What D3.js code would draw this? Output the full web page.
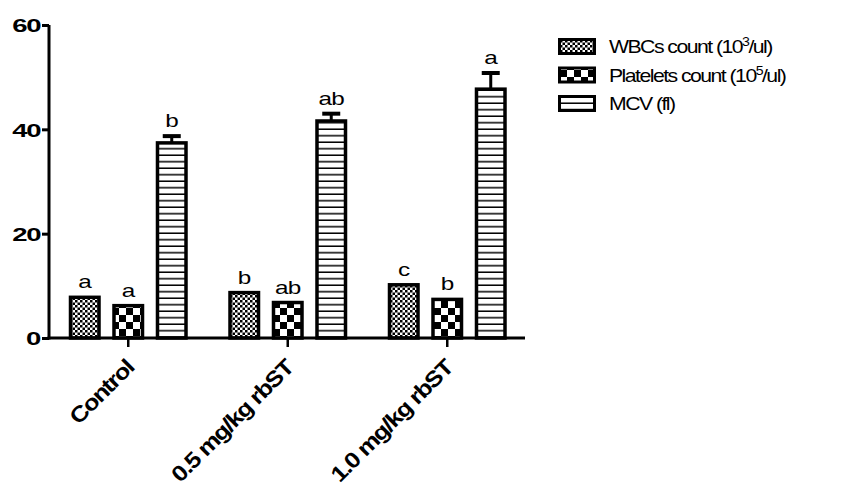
<!DOCTYPE html>
<html><head><meta charset="utf-8">
<script src="https://cdn.jsdelivr.net/npm/d3@7"></script>
<style>body{margin:0;background:#fff;} svg{display:block;}</style>
</head><body>
<svg id="c" width="852" height="488"></svg>
<script>
const groups = ["Control", "0.5 mg/kg rbST", "1.0 mg/kg rbST"];
const seriesNames = ["WBCs count", "Platelets count", "MCV"];
const wbc = [7.8, 8.7, 10.2];
const platelets = [6.2, 6.8, 7.4];
const mcv = [37.4, 41.6, 47.7];
const mcvErr = [1.3, 1.4, 3.1];
const wbcErr = [0, 0, 0];
const pltErr = [0, 0, 0];
const wbcLetters = ["a", "b", "c"];
const pltLetters = ["a", "ab", "b"];
const mcvLetters = ["b", "ab", "a"];
const yTicks = [0, 20, 40, 60];

const FONT = "Liberation Sans, Arial, sans-serif";
const svg = d3.select("#c");
const defs = svg.append("defs");
const p1 = defs.append("pattern").attr("id","fine").attr("patternUnits","userSpaceOnUse").attr("width",5).attr("height",5);
p1.append("rect").attr("width",5).attr("height",5).attr("fill","#fff");
p1.append("rect").attr("width",2.5).attr("height",2.5).attr("fill","#000");
p1.append("rect").attr("x",2.5).attr("y",2.5).attr("width",2.5).attr("height",2.5).attr("fill","#000");
const p2 = defs.append("pattern").attr("id","coarse").attr("patternUnits","userSpaceOnUse").attr("width",14).attr("height",14);
p2.append("rect").attr("width",14).attr("height",14).attr("fill","#fff");
p2.append("rect").attr("width",7).attr("height",7).attr("fill","#000");
p2.append("rect").attr("x",7).attr("y",7).attr("width",7).attr("height",7).attr("fill","#000");
const p3 = defs.append("pattern").attr("id","hlines").attr("patternUnits","userSpaceOnUse").attr("width",10).attr("height",6.5);
p3.append("rect").attr("width",10).attr("height",6.5).attr("fill","#fff");
p3.append("rect").attr("y",5).attr("width",10).attr("height",1.5).attr("fill","#000");
const fills = ["url(#fine)", "url(#coarse)", "url(#hlines)"];

const x0 = d3.scaleBand().domain(groups).range([48.5, 527]).padding(0);
const x1 = d3.scaleBand().domain(seriesNames).range([20.25, 139.25]).paddingInner(0.264).paddingOuter(0);
const y = d3.scaleLinear().domain([0, 60]).range([338, 25]);

const data = seriesNames.map((s, si) => ({
  name: s,
  vals: [wbc, platelets, mcv][si],
  errs: [wbcErr, pltErr, mcvErr][si],
  letters: [wbcLetters, pltLetters, mcvLetters][si],
  fill: fills[si]
}));

const SW = 3.5;
const g = svg.append("g");
data.forEach((s) => {
  groups.forEach((grp, i) => {
    const bx = x0(grp) + x1(s.name) + SW / 2;
    const bw = x1.bandwidth() - SW;
    const v = s.vals[i], e = s.errs[i];
    const cx = bx + bw / 2;
    if (e > 0) {
      g.append("line").attr("x1", cx).attr("x2", cx).attr("y1", y(v)).attr("y2", y(v + e)).attr("stroke","#000").attr("stroke-width",3);
      g.append("line").attr("x1", cx - 9).attr("x2", cx + 9).attr("y1", y(v + e)).attr("y2", y(v + e)).attr("stroke","#000").attr("stroke-width",4);
    }
    g.append("rect").attr("x", bx).attr("y", y(v)).attr("width", bw).attr("height", y(0) - y(v))
      .attr("fill", s.fill).attr("stroke", "#000").attr("stroke-width", SW);
    g.append("text").attr("text-anchor","middle")
      .attr("transform", `translate(${cx},${y(v + e) - 9}) scale(1.35,1)`)
      .attr("font-family",FONT).attr("font-size",18).attr("letter-spacing","-0.5px")
      .text(s.letters[i]);
  });
});

const yAxis = svg.append("g").attr("transform","translate(49,0)")
  .call(d3.axisLeft(y).tickValues(yTicks).tickSize(7).tickFormat(d3.format("d")));
yAxis.select(".domain").attr("stroke-width",3).attr("d","M0,339.5V25");
yAxis.selectAll(".tick line").attr("stroke-width",3);
yAxis.selectAll(".tick text").attr("font-family",FONT).attr("font-size",19)
  .attr("font-weight","bold").attr("letter-spacing","-1px").attr("x",0).attr("dy","0.36em")
  .attr("transform","translate(-9,0) scale(1.45,1)");

const xAxis = svg.append("g").attr("transform","translate(0,338)")
  .call(d3.axisBottom(x0).tickSize(9).tickSizeOuter(0));
xAxis.select(".domain").attr("stroke-width",3).attr("d","M47.5,0H525");
xAxis.selectAll(".tick line").attr("stroke-width",2.5);
xAxis.selectAll(".tick text").attr("font-family",FONT).attr("font-size",22)
  .attr("font-weight","bold").attr("letter-spacing","-1.2px").attr("text-anchor","end")
  .attr("x",0).attr("y",0).attr("dy",0)
  .attr("transform","translate(7,31) rotate(-45) scale(1.15,1)");

const legendLabels = [["WBCs count (10", "3", "/ul)"], ["Platelets count (10", "5", "/ul)"], ["MCV (fl)", "", ""]];
const lg = svg.append("g");
legendLabels.forEach((lab, i) => {
  const ly = 46.5 + i * 28.5;
  lg.append("rect").attr("x",559.5).attr("y",ly - 7).attr("width",35).attr("height",14)
    .attr("fill",fills[i]).attr("stroke","#000").attr("stroke-width",3);
  const t = lg.append("text").attr("transform",`translate(609,${ly + 6.5}) scale(1.18,1)`)
    .attr("font-family",FONT).attr("font-size",18).attr("letter-spacing","-1.3px");
  t.append("tspan").text(lab[0]);
  if (lab[1]) {
    t.append("tspan").attr("dy",-7).attr("font-size",12).text(lab[1]);
    t.append("tspan").attr("dy",7).text(lab[2]);
  }
});
</script>
</body></html>
